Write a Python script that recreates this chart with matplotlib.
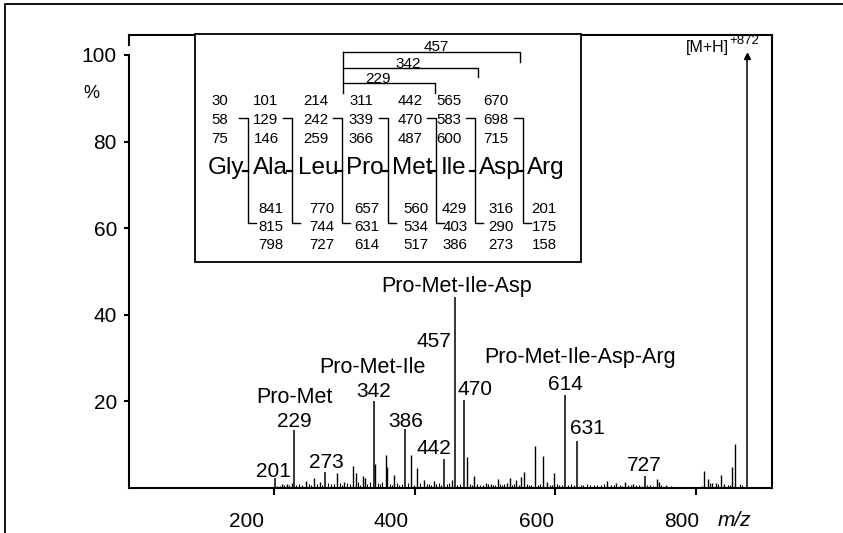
import matplotlib
matplotlib.use("Agg")
import matplotlib.pyplot as plt
from matplotlib.lines import Line2D
from matplotlib.transforms import ScaledTranslation

plt.rcParams['font.family'] = ['Liberation Sans', 'DejaVu Sans']

# ---- spectrum: labelled fragment peaks (m/z, relative intensity %) ----
label_mz = [201, 229, 273, 342, 386, 442, 457, 470, 614, 631, 727]
label_int = [2.4, 13.4, 3.8, 20.2, 13.6, 6.7, 44.2, 20.3, 21.5, 10.9, 2.8]

# molecular ion
parent_mz = 872
parent_int = 100.0

# unlabelled fragment peaks
minor_mz = [212, 218, 226, 246, 257, 265, 290, 300, 313, 316, 326, 329, 344,
            359, 361, 371, 395, 404, 414, 427, 453, 475, 485, 501, 508, 518,
            531, 535, 544, 552, 556, 571, 583, 588, 598, 674, 687, 699, 711,
            744, 747, 758, 812, 817, 823, 828, 836, 840, 852, 855]
minor_int = [1.0, 1.0, 1.2, 1.7, 2.2, 1.5, 3.5, 1.5, 5.1, 3.4, 2.8, 2.3, 5.5,
             7.6, 4.8, 3.0, 7.7, 4.6, 1.8, 1.6, 1.8, 7.1, 2.8, 1.2, 1.0, 2.1,
             1.2, 2.2, 1.8, 2.5, 3.8, 9.8, 7.4, 1.5, 3.4, 1.7, 1.2, 1.5, 1.0,
             2.1, 1.5, 0.8, 4.0, 2.0, 1.2, 1.2, 3.1, 1.0, 4.9, 10.1]

# low-level chemical background
noise_mz = [205, 208, 215, 221, 232, 236, 240, 250, 253, 261, 269, 277, 281,
            285, 294, 297, 304, 308, 320, 322, 333, 336, 348, 351, 354, 365,
            368, 375, 378, 382, 390, 399, 408, 418, 421, 424, 431, 435, 438,
            446, 449, 461, 464, 479, 482, 489, 493, 497, 504, 511, 514, 521,
            524, 527, 538, 541, 548, 560, 563, 566, 575, 579, 592, 595, 602,
            606, 610, 618, 622, 626, 636, 640, 645, 650, 655, 660, 665, 670,
            679, 683, 692, 695, 703, 707, 715, 719, 723, 731, 735, 739, 751,
            764, 808, 820, 832, 845, 848, 862, 866]
noise_int = [0.5, 0.4, 0.7, 0.6, 0.8, 0.9, 0.6, 1.0, 0.7, 0.9, 0.8, 1.1, 0.9,
             1.0, 1.2, 0.8, 1.1, 0.9, 1.3, 0.8, 1.0, 1.4, 1.1, 0.9, 1.3, 1.0,
             0.8, 1.2, 0.7, 1.0, 1.1, 0.8, 1.2, 0.9, 1.0, 0.7, 0.9, 1.1, 0.8,
             0.9, 1.2, 0.8, 1.0, 0.9, 0.7, 1.0, 0.8, 0.6, 0.9, 0.7, 0.8, 1.0,
             0.6, 0.9, 0.8, 1.0, 0.7, 0.9, 0.6, 0.8, 0.7, 0.9, 0.8, 0.6, 0.9,
             0.7, 0.8, 0.6, 0.9, 0.7, 0.6, 0.8, 0.9, 0.7, 0.6, 0.8, 0.7, 0.9,
             0.6, 0.7, 0.8, 0.5, 0.7, 0.6, 0.8, 0.6, 0.5, 0.7, 0.6, 0.5, 0.6,
             0.4, 0.5, 1.2, 0.9, 0.8, 0.7, 0.9, 0.6]

# sequence-ion labels on the spectrum
peptide_labels = {229: "Pro-Met", 342: "Pro-Met-Ile", 457: "Pro-Met-Ile-Asp",
                  614: "Pro-Met-Ile-Asp-Arg"}

x_ticks = [200, 400, 600, 800]
y_ticks = [20, 40, 60, 80, 100]

# ---- inset fragmentation scheme ----
residues = ['Gly', 'Ala', 'Leu', 'Pro', 'Met', 'Ile', 'Asp', 'Arg']
n_term_ions = [[30, 101, 214, 311, 442, 565, 670],
               [58, 129, 242, 339, 470, 583, 698],
               [75, 146, 259, 366, 487, 600, 715]]
c_term_ions = [[841, 770, 657, 560, 429, 316, 201],
               [815, 744, 631, 534, 403, 290, 175],
               [798, 727, 614, 517, 386, 273, 158]]
internal_ions = [457, 342, 229]

W, H = 843, 533
fig = plt.figure(figsize=(W / 100, H / 100), dpi=100)

# main axes placement (pixel frame of the spectrum)
L_px, R_px, B_px, T_px = 128.5, 772.0, 488.0, 35.0
ax = fig.add_axes([L_px / W, 1 - B_px / H, (R_px - L_px) / W, (B_px - T_px) / H])
ax.set_xlim(-6.8, 908.2)
ax.set_ylim(0, 104.6)

lw_axis = 1.5
for s in ['left', 'bottom', 'right', 'top']:
    ax.spines[s].set_linewidth(lw_axis)
ax.spines['left'].set_bounds(0, 100)

# peaks
ax.vlines(noise_mz, 0, noise_int, color='black', lw=0.8)
ax.vlines(minor_mz, 0, minor_int, color='black', lw=1.0)
ax.vlines(label_mz, 0, label_int, color='black', lw=1.1)
ax.vlines([parent_mz], 0, [parent_int - 1.2], color='black', lw=1.1)
ax.plot([parent_mz], [parent_int - 0.3], marker='^', ms=4, color='black',
        clip_on=False)

# hook at the left end of the top frame line
ax.plot([0, 0], [1, 0.978], transform=ax.transAxes, color='black',
        lw=lw_axis, clip_on=False)

ax.set_xticks(x_ticks)
ax.set_xticklabels([str(v) for v in x_ticks])
ax.set_yticks(y_ticks)
ax.set_yticklabels([str(v) for v in y_ticks])
ax.tick_params(axis='x', direction='out', length=5, width=1.5, pad=12,
               labelsize=15)
ax.tick_params(axis='y', direction='out', length=3.6, width=1.5, pad=4.7,
               labelsize=15)

# the printed m/z numbers sit a little to the left of their tick marks
xlabel_shift_px = [-27, -24, -19, -14]
for lab, dx in zip(ax.get_xticklabels(), xlabel_shift_px):
    lab.set_transform(lab.get_transform() +
                      ScaledTranslation(dx / 100, 0, fig.dpi_scale_trans))

PX = 0.72  # points per pixel at 100 dpi

def label(mz, inten, text, dx_px, dy_px, ha='center', size=15):
    ax.annotate(text, (mz, inten), xytext=(dx_px * PX, dy_px * PX),
                textcoords='offset points', ha=ha, va='baseline',
                fontsize=size, annotation_clip=False)

# numeric labels: (dx, dy) in pixels from the peak apex
num_offsets = {201: (-1, 1), 229: (0, 3), 273: (1, 4), 342: (0, 4),
               386: (1, 2), 442: (-10, 5), 470: (11, 5), 614: (0, 5),
               631: (10, 7), 727: (0, 5)}
for mz, inten in zip(label_mz, label_int):
    if mz == 457:
        label(mz, inten, str(mz), -3, -50, ha='right')
    else:
        dx, dy = num_offsets[mz]
        label(mz, inten, str(mz), dx, dy)

name_offsets = {229: (0, 27), 342: (-1, 28), 457: (2, 5), 614: (15, 32)}
for mz, text in peptide_labels.items():
    inten = label_int[label_mz.index(mz)]
    dx, dy = name_offsets[mz]
    label(mz, inten, text, dx, dy, size=15.5)

# molecular ion label
label(parent_mz, parent_int, "[M+H]", -18, 3, ha='right', size=11.5)
label(parent_mz, parent_int, "+872", -17, 11, ha='left', size=9.5)

# ---- overlay in pixel coordinates for frame, axis captions and inset ----
ov = fig.add_axes([0, 0, 1, 1], zorder=5)
ov.set_xlim(0, W)
ov.set_ylim(H, 0)
ov.axis('off')
ov.patch.set_alpha(0)

# outer border
ov.add_line(Line2D([5, 5, W], [H, 4, 4], color='black', lw=1.3))

ov.text(91, 94, "%", fontsize=13, ha='center', va='center')
ov.text(734, 521, "m/z", fontsize=15, ha='center', va='center', style='italic')

# inset box
ov.add_patch(plt.Rectangle((195, 34), 386, 228, facecolor='white',
                           edgecolor='black', lw=1.3))

num_fs = 10.8
top_cols = [220, 266, 316, 361, 410, 449, 496]
top_rows_y = [100.7, 120, 139.3]
for row, y in zip(n_term_ions, top_rows_y):
    for v, x in zip(row, top_cols):
        ov.text(x, y, str(v), fontsize=num_fs, ha='center', va='center')

bot_cols = [271, 321.7, 367, 416, 454.7, 500.7, 544]
bot_rows_y = [209, 226.7, 245]
for row, y in zip(c_term_ions, bot_rows_y):
    for v, x in zip(row, bot_cols):
        ov.text(x, y, str(v), fontsize=num_fs, ha='center', va='center')

res_x = [226, 270.7, 318.3, 365, 412.7, 453.3, 500, 546]
for r, x in zip(residues, res_x):
    ov.text(x, 168, r, fontsize=17.5, ha='center', va='center')

# cleavage markers between residues
link_x = [248.3, 291.7, 341.7, 388.3, 435.7, 475, 523.3]
for x in link_x:
    ov.add_line(Line2D([x - 9, x, x, x + 8], [118.3, 118.3, 223.3, 223.3],
                       color='black', lw=1.0))
    ov.add_line(Line2D([x - 5, x], [170.5, 170.5], color='black', lw=1.6))

# internal fragment brackets
br_left = 343.3
br_right = [520, 478.3, 435]
br_top = [51.7, 68.3, 83.3]
br_drop = [61.7, 76.7, 93.3]
br_text_x = [436.7, 408, 378]
ov.add_line(Line2D([br_left, br_left], [br_top[0], 93.3], color='black', lw=1.0))
for v, xr, yt, yd, tx in zip(internal_ions, br_right, br_top, br_drop, br_text_x):
    ov.add_line(Line2D([br_left, xr, xr], [yt, yt, yd], color='black', lw=1.0))
    ov.text(tx, yt - 0.5, str(v), fontsize=11, ha='center', va='baseline')

fig.savefig("out.png", dpi=100)
